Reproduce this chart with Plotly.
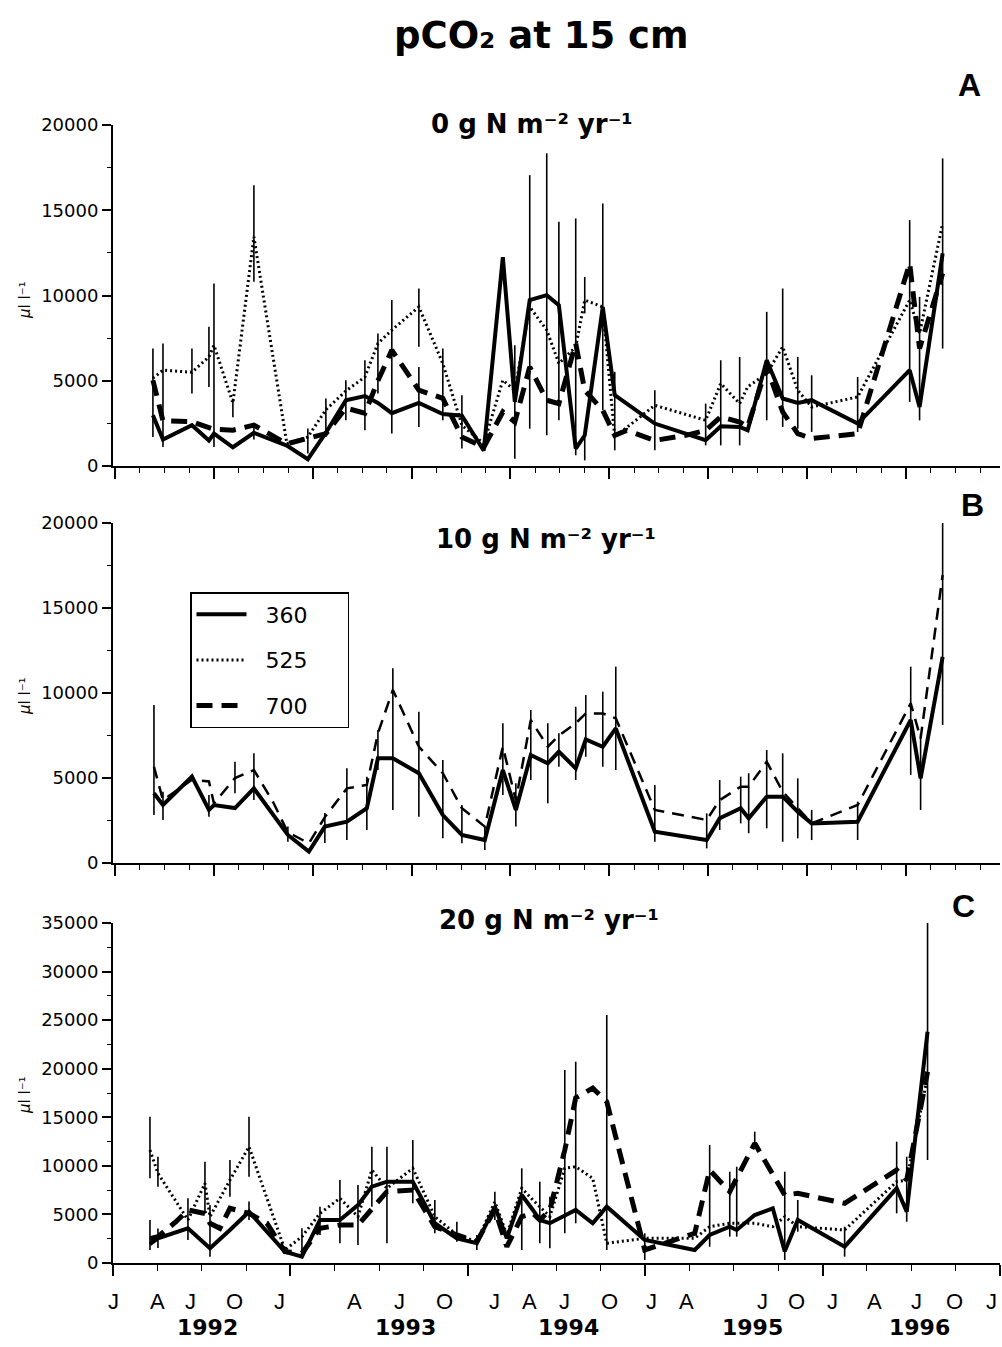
import plotly.graph_objects as go

# ---------------- DATA (x = months since 1 Jan 1992; y = pCO2, µl l-1) ----------------
SERIES = ["360", "525", "700"]

# Panel A: 0 g N m-2 yr-1
A_MONTHS = [2.70, 3.38, 5.34, 6.49, 6.83, 8.11, 9.53, 11.76, 13.18, 14.40, 15.75, 17.04, 17.92, 18.86,
            20.69, 22.31, 23.60, 25.08, 26.37, 27.18, 28.19, 29.34, 30.16, 31.30, 31.91, 33.13, 33.94,
            34.75, 36.65, 38.74, 40.09, 41.11, 42.39, 42.93, 44.22, 45.30, 46.32, 47.26, 50.37, 53.89,
            54.56, 56.12]
A_360 = [2980, 1550, 2390, 1500, 1900, 1100, 1950, 1200, 400, 1950, 3850, 4100, 3700, 3100, 3700, 3050,
         2950, 900, 12250, 3760, 9730, 10020, 9430, 1020, 1800, 9330, 4150, None, 2490, 1900, 1510, 2330,
         2290, 2100, 6200, 3960, 3700, 3860, 2490, 5620, 3460, 12470]
A_525 = [5150, 5620, 5500, 6400, 7080, 3700, 13440, 1310, 1700, 3300, 4400, 5220, 7190, 7970, 9330, 6010,
         2390, 1310, 5030, 4440, 9330, 7970, 6010, 6990, 9730, 9330, 1700, None, 3560, None, 2680, 4840,
         3660, 4640, 5420, 6990, 4440, 3460, 4050, 9730, 7770, 14230]
A_700 = [5030, 2650, 2600, 2300, 2150, 2100, 2400, 1300, 1600, 1900, 3400, 3100, 5000, 6800, 4450, 3970,
         1700, 1100, 3170, 2580, 5810, 3860, 3660, 7190, 4440, 3270, 1800, 2090, 1500, 1800, 2090, 2880,
         2580, 2300, 5810, 3170, 1900, 1610, 1900, 11880, 6890, 11290]
# error bars: (date index, upper end, lower end)
A_360_BARS = [(0, 6890, 1700), (6, 2350, 1550), (10, 5030, 2680), (11, 6200, 2090), (14, 5810, 2290),
              (16, 4150, 1020), (19, 7080, 430), (20, 17060, 2190), (21, 18340, 1800), (22, 14320, 2680),
              (24, 1900, 330), (25, 15400, 3270), (26, 5520, 920), (28, 4440, 920), (30, 3660, 1210),
              (32, 6400, 1210), (34, 9040, 2680), (36, 6400, 2190), (37, 5320, 2000), (38, 5220, 2000),
              (41, 18040, 6890)]
A_525_BARS = [(1, 7190, 1120), (2, 6890, 4250), (3, 8160, 4640), (4, 10710, 1120), (5, 3940, 2860),
              (6, 16470, 10800), (9, 3960, 1700), (12, 7770, 4250), (14, 10410, 6990), (15, 6890, 2680),
              (24, 11090, 8950), (31, 6200, 1210), (35, 10410, 2290)]
A_700_BARS = [(8, 2200, 730), (13, 9730, 1900), (23, 14520, 630), (39, 14420, 3760), (40, 9920, 2680)]

# Panel B: 10 g N m-2 yr-1
B_MONTHS = [2.77, 3.38, 5.34, 6.49, 6.83, 8.25, 9.53, 10.82, 11.83, 13.25, 14.33, 15.82, 17.17, 17.92,
            18.93, 20.69, 22.31, 23.60, 25.15, 26.37, 27.25, 28.26, 29.41, 30.16, 31.30, 31.98, 33.13,
            34.01, 36.65, 40.16, 41.04, 42.46, 43.00, 44.22, 45.30, 46.32, 47.26, 50.37, 53.96, 54.63,
            56.12]
B_360 = [4100, 3410, 5080, 3120, 3410, 3230, 4390, None, 1650, 670, 2140, 2430, 3220, 6160, 6160, 5280,
         2820, 1650, 1350, 5470, 3120, 6350, 5860, 6550, 5570, 7270, 6840, 7920, 1840, 1350, 2630, 3220,
         2630, 3900, 3900, 3020, 2330, 2430, 8410, 4980, 12130]
B_700 = [5660, 3700, 4900, 4800, 3500, 5000, 5470, 3600, 1800, 1160, 2700, 4390, 4590, 7630, 10180, 6840,
         5280, 3220, 2140, 6840, 3700, 8410, 6840, 7500, 8220, 8800, 8800, 8510, 3120, 2530, 3700, 4490,
         4490, 5960, 4190, 3200, 2330, 3410, 9390, 7330, 16940]
B_360_BARS = [(1, 4190, 2530), (3, 4000, 2720), (8, 2140, 1250), (10, 2940, 1180), (15, 8900, 2720),
              (17, 3410, 1160), (18, 2140, 760), (20, 4690, 2140), (22, 8220, 3510), (23, 7630, 5660),
              (25, 9880, 6250), (26, 10080, 5660), (27, 11550, 5470), (29, 2920, 860), (30, 4880, 1940),
              (31, 5080, 2330), (32, 5280, 1750), (33, 6650, 2040), (34, 6450, 1250), (35, 4980, 1450),
              (36, 3120, 1350), (37, 3610, 1350), (39, 7630, 3120), (40, 21940, 8120)]
B_700_BARS = [(0, 9290, 2820), (5, 5960, 4100), (6, 6450, 3700), (11, 5570, 1350), (12, 5080, 1940),
              (13, 7820, 5470), (14, 11450, 3120), (16, 6060, 1450), (19, 8220, 4000), (21, 9000, 4880),
              (24, 9190, 4880), (28, 4590, 1250), (38, 11550, 5180)]

# Panel C: 20 g N m-2 yr-1
C_MONTHS = [2.50, 3.04, 4.26, 5.07, 6.22, 6.56, 7.23, 7.91, 9.20, 10.41, 11.63, 12.78, 14.00, 15.35,
            16.57, 17.51, 18.53, 20.28, 21.77, 23.26, 24.61, 25.83, 26.64, 27.65, 28.40, 28.87, 29.55,
            30.56, 31.30, 32.45, 33.40, 35.97, 39.35, 40.36, 41.72, 42.19, 43.41, 44.63, 45.44, 46.32,
            49.49, 53.01, 53.69, 55.10]
C_360 = [1950, 2540, None, 3570, None, 1510, None, 3400, 5280, None, 1160, 650, 4430, 4430, 5970, 7860,
         8370, 8370, 4090, 2540, 2030, 5800, 2540, 7000, 5460, 4430, 4100, 4940, 5460, 4090, 5800, 2370,
         1340, 2880, 3740, 3400, 4940, 5630, 1200, 4430, 1680, 7690, 5280, 23800]
C_525 = [11630, 9230, None, 4430, 8200, 4770, None, 8540, 11970, None, 1340, 2710, 5110, 6660, 4770, 9570,
         7690, 9750, 4770, 2900, 2200, 6310, 2900, 7690, 6490, None, 4770, 9750, 9910, 8720, 2030, 2540,
         2540, 3740, 4090, None, 4090, 3740, 4770, 3740, 3400, 8370, 8540, 19170]
C_700 = [2500, 2700, 4250, 5460, 5100, 4090, 3570, 5630, 5110, 4100, 1160, 1000, 3570, 3910, 3910, 5630,
         7340, 7510, 3740, 2900, 2200, 5500, 1680, 4770, 5110, 4430, 5460, 11630, 17000, 18000, 16600, 1340,
         3060, 9570, 7340, None, 12320, None, 7000, 7170, 6140, 9570, 8540, 19690]
C_360_BARS = [(0, 4430, 1340), (1, 3540, 1540), (3, 6660, 2370), (5, 5970, 650), (8, 6330, 4430),
              (16, 11970, 2030), (18, 6490, 3060), (19, 4250, 2200), (20, 2880, 1340), (23, 9750, 1340),
              (25, 8370, 2030), (31, 3060, 310), (35, 9910, 2710), (38, 9400, 310), (39, 6490, 3220),
              (40, 3740, 650), (41, 12490, 5110), (42, 10940, 4250), (43, 37190, 10600)]
C_525_BARS = [(0, 15060, 8720), (1, 10940, 7850), (4, 10430, 5110), (7, 10600, 6820), (8, 15060, 8880),
              (11, 3570, 480), (12, 5800, 2880), (13, 8540, 2030), (14, 8030, 1850), (15, 11970, 5800),
              (17, 12660, 6140), (21, 7340, 4430)]
C_700_BARS = [(26, 6820, 1510), (27, 19870, 3060), (28, 20720, 4090), (30, 25530, 1340),
              (33, 12150, 1680), (34, 9400, 2710), (36, 13520, 11970)]

# x-axis labels (months since Jan 1992)
MONTH_LABELS = ["J", "A", "J", "O", "J", "A", "J", "O", "J", "A", "J", "O", "J", "A", "J", "O", "J", "A",
                "J", "O", "J"]
MONTH_LABEL_POS = [0.0, 3.04, 5.21, 8.25, 11.29, 16.36, 19.41, 22.45, 25.83, 28.19, 30.56, 33.61, 36.44,
                   38.81, 43.95, 46.25, 48.68, 51.52, 54.36, 56.93, 59.43]
YEAR_LABELS = ["1992", "1993", "1994", "1995", "1996"]
YEAR_LABEL_POS = [6.42, 19.81, 30.83, 43.27, 54.56]

PANEL_TITLES = ["0 g N m⁻² yr⁻¹", "10 g N m⁻² yr⁻¹", "20 g N m⁻² yr⁻¹"]
PANEL_LETTERS = ["A", "B", "C"]

# ---------------- LAYOUT HELPERS ----------------
W, H = 1002, 1347


def px_x(p):
    return p / W


def px_y(p):
    return 1 - p / H


STYLE = {
    "360": dict(color="black", width=4, dash="solid"),
    "525": dict(color="black", width=3, dash="2px,3px"),
    "700": dict(color="black", width=5, dash="16px,9px"),
}
STYLE_B700 = dict(color="black", width=2.5, dash="12px,8px")

fig = go.Figure()

NB = "\u00a0"


def add_series(months, values, bars, name, xa, ya, line, showlegend):
    plus = [0] * len(values)
    minus = [0] * len(values)
    for idx, hi, lo in bars:
        plus[idx] = hi - values[idx]
        minus[idx] = values[idx] - lo
    fig.add_trace(go.Scatter(
        x=months, y=values, mode="lines", name=NB * 2 + name + NB * 5, legendgroup=name,
        showlegend=showlegend, connectgaps=True, line=line,
        error_y=dict(type="data", symmetric=False, array=plus, arrayminus=minus,
                     color="black", thickness=1.6, width=0),
        xaxis=xa, yaxis=ya, hoverinfo="skip"))


add_series(A_MONTHS, A_360, A_360_BARS, "360", "x", "y", STYLE["360"], True)
add_series(A_MONTHS, A_525, A_525_BARS, "525", "x", "y", STYLE["525"], True)
add_series(A_MONTHS, A_700, A_700_BARS, "700", "x", "y", STYLE["700"], True)

add_series(B_MONTHS, B_360, B_360_BARS, "360", "x2", "y2", STYLE["360"], False)
add_series(B_MONTHS, B_700, B_700_BARS, "700", "x2", "y2", STYLE_B700, False)

add_series(C_MONTHS, C_360, C_360_BARS, "360", "x3", "y3", STYLE["360"], False)
add_series(C_MONTHS, C_525, C_525_BARS, "525", "x3", "y3", STYLE["525"], False)
add_series(C_MONTHS, C_700, C_700_BARS, "700", "x3", "y3", STYLE["700"], False)

XDOM = [px_x(113), px_x(1000)]
PANEL_PX = [(125, 466), (523, 863), (923, 1263)]
YMAX = [20000, 20000, 35000]

tickfont = dict(family="DejaVu Sans", size=18, color="black")


def yaxis_cfg(i):
    top, bot = PANEL_PX[i]
    return dict(domain=[px_y(bot), px_y(top)], range=[0, YMAX[i]], anchor=["x", "x2", "x3"][i],
                showline=True, linecolor="black", linewidth=2, mirror=False,
                ticks="outside", ticklen=9, tickwidth=1.5, tickcolor="black",
                tickmode="linear", tick0=0, dtick=5000, tickformat="d", tickfont=tickfont,
                showgrid=False, zeroline=False, automargin=False,
                minor=dict(ticks="outside", ticklen=4, tickwidth=1.2, tickcolor="black",
                           dtick=2500, tick0=0, showgrid=False))


def xaxis_ab(anchor):
    return dict(domain=XDOM, range=[0, 60], anchor=anchor, showline=True, linecolor="black",
                linewidth=2, ticks="outside", ticklen=11, tickwidth=1.5, tickcolor="black",
                tickmode="linear", tick0=0.135, dtick=6.687, showticklabels=False,
                showgrid=False, zeroline=False, automargin=False,
                minor=dict(ticks="outside", ticklen=5, tickwidth=1.2, tickcolor="black",
                           tick0=0.135, dtick=1.672, showgrid=False))


fig.update_layout(
    width=W, height=H, autosize=False,
    margin=dict(l=0, r=0, t=0, b=0),
    paper_bgcolor="white", plot_bgcolor="white",
    font=dict(family="DejaVu Sans", color="black"),
    xaxis=xaxis_ab("y"),
    xaxis2=xaxis_ab("y2"),
    xaxis3=dict(domain=XDOM, range=[0, 60], anchor="y3", showline=True, linecolor="black",
                linewidth=2, ticks="outside", ticklen=11, tickwidth=1.5, tickcolor="black",
                tickmode="linear", tick0=0, dtick=12, showticklabels=False,
                showgrid=False, zeroline=False, automargin=False,
                minor=dict(ticks="outside", ticklen=6, tickwidth=1.2, tickcolor="black",
                           tick0=0, dtick=3, showgrid=False)),
    yaxis=yaxis_cfg(0),
    yaxis2=yaxis_cfg(1),
    yaxis3=yaxis_cfg(2),
    showlegend=True,
    legend=dict(x=px_x(190), y=px_y(592), xanchor="left", yanchor="top",
                bordercolor="black", borderwidth=1.5, bgcolor="white",
                font=dict(family="DejaVu Sans", size=22, color="black"),
                traceorder="grouped", tracegroupgap=14, itemwidth=50),
)

annotations = [
    dict(text="pCO₂ at 15 cm", x=px_x(541), y=px_y(35), xref="paper", yref="paper",
         showarrow=False, xanchor="center", yanchor="middle",
         font=dict(family="DejaVu Sans", size=37, color="black", weight="bold")),
]
# month and year labels under the bottom panel, placed on its x scale
for lab, pos in zip(MONTH_LABELS, MONTH_LABEL_POS):
    annotations.append(dict(text=lab, x=pos, y=px_y(1301), xref="x3", yref="paper",
                            showarrow=False, xanchor="center", yanchor="middle",
                            font=dict(family="Liberation Sans", size=22, color="black")))
for lab, pos in zip(YEAR_LABELS, YEAR_LABEL_POS):
    annotations.append(dict(text=lab, x=pos, y=px_y(1327), xref="x3", yref="paper",
                            showarrow=False, xanchor="center", yanchor="middle",
                            font=dict(family="DejaVu Sans", size=22, color="black", weight="bold")))

title_pos = [(532, 124), (546, 539), (549, 920)]
letter_pos = [(969, 85), (972, 505), (963, 906)]
ytitle_y = [300, 696, 1095]
for i in range(3):
    annotations.append(dict(text=PANEL_TITLES[i], x=px_x(title_pos[i][0]), y=px_y(title_pos[i][1]),
                            xref="paper", yref="paper", showarrow=False, xanchor="center",
                            yanchor="middle",
                            font=dict(family="DejaVu Sans", size=26, color="black", weight="bold")))
    annotations.append(dict(text=PANEL_LETTERS[i], x=px_x(letter_pos[i][0]), y=px_y(letter_pos[i][1]),
                            xref="paper", yref="paper", showarrow=False, xanchor="center",
                            yanchor="middle",
                            font=dict(family="Liberation Sans", size=32, color="black", weight="bold")))
    annotations.append(dict(text="<i>μ</i>l l⁻¹", x=px_x(25), y=px_y(ytitle_y[i]),
                            xref="paper", yref="paper", showarrow=False, xanchor="center",
                            yanchor="middle", textangle=-90,
                            font=dict(family="DejaVu Sans", size=15, color="black")))
fig.update_layout(annotations=annotations)

fig.write_html("out.html")
